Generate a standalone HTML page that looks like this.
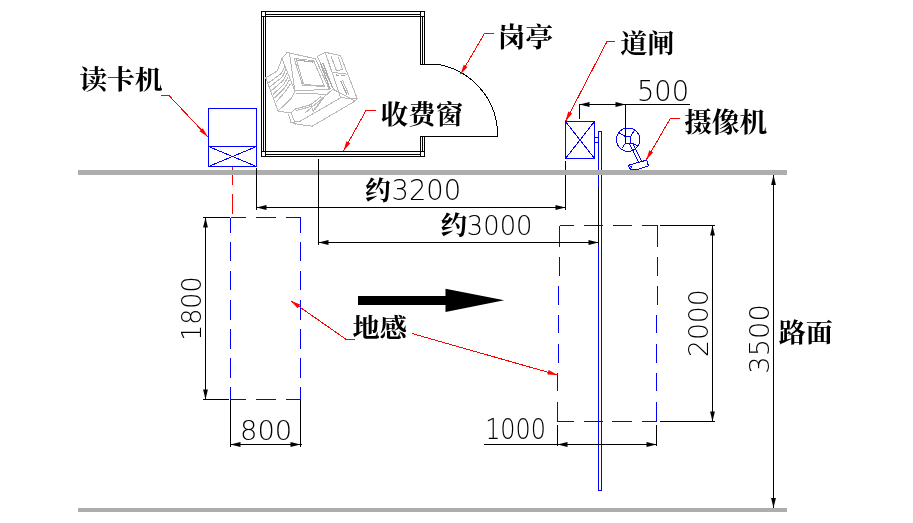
<!DOCTYPE html>
<html lang="zh"><head><meta charset="utf-8"><title>车道布置图</title>
<style>html,body{margin:0;padding:0;background:#fff}svg{display:block;will-change:transform}text{fill:#000}</style></head>
<body><svg width="913" height="523" viewBox="0 0 913 523">
<rect width="913" height="523" fill="#fff"/>
<g stroke="#000" stroke-width="1" fill="none" shape-rendering="crispEdges">
<line x1="261" y1="11.5" x2="425" y2="11.5"/>
<line x1="265" y1="14.5" x2="421" y2="14.5"/>
<line x1="261" y1="16.5" x2="425" y2="16.5"/>
<line x1="261" y1="151.5" x2="425" y2="151.5"/>
<line x1="265" y1="154.5" x2="421" y2="154.5"/>
<line x1="261" y1="156.5" x2="425" y2="156.5"/>
<line x1="261.5" y1="11" x2="261.5" y2="157"/>
<line x1="263.5" y1="16" x2="263.5" y2="152"/>
<line x1="265.5" y1="11" x2="265.5" y2="157"/>
<line x1="420.5" y1="11" x2="420.5" y2="64"/>
<line x1="422.5" y1="16" x2="422.5" y2="64"/>
<line x1="424.5" y1="11" x2="424.5" y2="64"/>
<line x1="420.5" y1="136" x2="420.5" y2="157"/>
<line x1="422.5" y1="136" x2="422.5" y2="152"/>
<line x1="424.5" y1="136" x2="424.5" y2="157"/>
</g>
<path d="M420,64.5 L438.5,64.5 A72,72 0 0 1 497.5,130 L497.5,136.5 L420,136.5" fill="none" stroke="#000" stroke-width="1" shape-rendering="crispEdges"/>
<g fill="none" stroke="#b8b8b8" stroke-width="1" shape-rendering="crispEdges">
<polygon points="289.5,53.0 315.5,58.8 329.3,89.3 294.9,90.9" />
<polygon points="294.1,58.5 313.7,60.7 324.7,86.6 302.5,85.1" />
<polyline points="296.4,60.0 313.2,62.1" stroke="#a8a8a8" stroke-width="1.2"/>
<polyline points="296.4,60.0 303.6,84.4" />
<polyline points="303.6,84.4 323.9,86.0" />
<polyline points="289.5,53.0 287.2,52.3 281.9,58.5 294.9,90.9" />
<polyline points="281.9,58.5 277.3,71.0 265.8,77.9 278.1,111.1 291.1,113.0" />
<polyline points="294.9,90.9 291.1,98.5 278.1,111.1" />
<polyline points="295.9,93.6 328.1,94.2" />
<polyline points="284.9,65.6 281.6,73.3 268.4,82.9" />
<polyline points="286.0,69.3 282.3,77.0 270.0,86.7" />
<polyline points="287.1,73.0 283.1,80.6 271.5,90.6" />
<polyline points="288.1,76.7 283.9,84.3 273.0,94.4" />
<polyline points="289.2,80.3 284.6,88.0 274.5,98.2" />
<polyline points="290.3,84.0 285.4,91.6 276.1,102.0" />
<polyline points="291.1,113.0 294.9,109.2 310.9,104.6 320.9,96.7" />
<polyline points="296.4,110.4 311.2,106.5" />
<polyline points="310.9,104.6 313.2,111.1 323.2,97.0" />
<polyline points="314.8,110.0 324.7,96.2" />
<polyline points="291.1,113.0 295.9,125.0" />
<polyline points="317.1,56.4 325.2,52.3 340.6,55.6 357.2,98.6 355.2,101.0 312.2,126.2 300.0,124.6 291.1,122.6" />
<polyline points="291.1,122.6 288.3,114.0" />
<polyline points="325.2,52.3 340.6,97.8 357.2,98.6" />
<polyline points="340.6,97.8 300.0,121.3 290.3,122.6" />
<polyline points="317.1,56.4 333.3,88.9" />
<polyline points="320.3,62.9 330.0,88.9" stroke="#a8a8a8" stroke-width="1.3"/>
<polyline points="322.7,62.5 332.5,87.6" stroke="#a8a8a8" stroke-width="1.3"/>
<polyline points="330.9,56.0 336.5,70.7 342.6,69.4 338.2,56.7" />
<polyline points="332.5,72.3 347.1,74.2" />
<polyline points="335.7,75.0 339.0,75.4" stroke="#a8a8a8" stroke-width="1.2"/>
<polyline points="341.4,75.5 344.7,75.9" stroke="#a8a8a8" stroke-width="1.2"/>
<polyline points="340.6,80.7 347.1,95.3" stroke="#a8a8a8" stroke-width="1.2"/>
<polyline points="342.6,80.4 348.7,94.5" />
<polyline points="332.5,88.9 355.2,101.0" />
<polyline points="333.3,88.9 304.9,113.2" />
</g>
<g fill="none" stroke="#0000ff" stroke-width="1" shape-rendering="crispEdges">
<rect x="208.5" y="108.5" width="48" height="58" shape-rendering="crispEdges"/>
<line x1="208.5" y1="146.5" x2="256.5" y2="146.5" shape-rendering="crispEdges"/>
<line x1="208.5" y1="146.5" x2="256.5" y2="166.5"/><line x1="208.5" y1="166.5" x2="256.5" y2="146.5"/>
<rect x="565.5" y="121.5" width="29" height="37" shape-rendering="crispEdges"/>
<line x1="565.5" y1="121.5" x2="594.5" y2="158.5"/><line x1="565.5" y1="158.5" x2="594.5" y2="121.5"/>
<rect x="594.5" y="137.5" width="4" height="5" shape-rendering="crispEdges"/>
<path d="M598.5,490 L598.5,131.5 L601.5,131.5 L601.5,490 Z" shape-rendering="crispEdges"/>
<circle cx="628.1" cy="139.7" r="11.7"/>
<rect x="625.5" y="136.5" width="5" height="6.5"/>
<path d="M625.5,136.6 L618.6,132.6 M630.6,136.6 L634.7,129.7 M625.5,142.9 L622,148.3 M630.6,142.9 L638.3,145.8"/>
<path d="M628.9,143 L638.7,162 M632.4,143 L641.2,160.7"/>
<path d="M628.3,165.3 L646.7,160.1 L648.4,165.9 L637,169.6 L630.5,169.8 Z M628.3,165.3 L631.3,166.5 L630.5,169.8"/>
</g>
<path d="M232.5,167 L232.5,185 M232.5,194 L232.5,214" stroke="#f00" stroke-width="1" fill="none" shape-rendering="crispEdges"/>
<path d="M230.5,217.5 L246,217.5 M256,217.5 L276,217.5 M285.5,217.5 L300.5,217.5 M230.5,399.5 L246,399.5 M256,399.5 L276,399.5 M285.5,399.5 L300.5,399.5 M230.5,217.5 L230.5,232.5 M230.5,242 L230.5,261 M230.5,271 L230.5,290 M230.5,300 L230.5,320 M230.5,329 L230.5,349 M230.5,358 L230.5,378 M230.5,386.5 L230.5,399.5 M300.5,217.5 L300.5,232.5 M300.5,242 L300.5,261 M300.5,271 L300.5,290 M300.5,300 L300.5,320 M300.5,329 L300.5,349 M300.5,358 L300.5,378 M300.5,386.5 L300.5,399.5" stroke="#0000ff" stroke-width="1" fill="none" shape-rendering="crispEdges"/>
<path d="M559.5,225.5 L574,225.5 M584,225.5 L603,225.5 M612.5,225.5 L632,225.5 M642,225.5 L657.5,225.5 M557.5,421.5 L574,421.5 M583.5,421.5 L603,421.5 M612,421.5 L632,421.5 M641.5,421.5 L656.5,421.5 M559.5,225.5 L559.5,246.5 M559.5,257 L559.5,275.5 M558.5,286 L558.5,305 M558.5,314.5 L558.5,333 M558.5,343.5 L558.5,362.5 M557.5,372.5 L557.5,391 M557.5,401.5 L557.5,421.5 M657.5,225.5 L657.5,246.5 M657.5,257 L657.5,275.5 M657.5,286 L657.5,305 M656.5,314.5 L656.5,333 M656.5,343.5 L656.5,362.5 M656.5,372.5 L656.5,391 M656.5,401.5 L656.5,421.5" stroke="#0000ff" stroke-width="1" fill="none" shape-rendering="crispEdges"/>
<polygon points="358,296 445.5,296 445.5,288.8 504.2,300.3 445.5,311.9 445.5,305 358,305" fill="#000"/>
<g stroke="#000" stroke-width="1" fill="none" shape-rendering="crispEdges">
<line x1="579" y1="104.5" x2="690" y2="104.5"/>
<line x1="579.5" y1="104" x2="579.5" y2="119"/>
<line x1="625.5" y1="104" x2="625.5" y2="142"/>
<line x1="256.5" y1="168" x2="256.5" y2="210"/>
<line x1="565.5" y1="161" x2="565.5" y2="210"/>
<line x1="256" y1="207.5" x2="566" y2="207.5"/>
<line x1="318.5" y1="159" x2="318.5" y2="245"/>
<line x1="598.5" y1="187" x2="598.5" y2="245"/>
<line x1="318" y1="242.5" x2="599" y2="242.5"/>
<line x1="203" y1="217.5" x2="230" y2="217.5"/>
<line x1="203" y1="399.5" x2="228.5" y2="399.5"/>
<line x1="205.5" y1="217" x2="205.5" y2="400"/>
<line x1="230.5" y1="400" x2="230.5" y2="447"/>
<line x1="300.5" y1="400" x2="300.5" y2="447"/>
<line x1="229.5" y1="444.5" x2="302" y2="444.5"/>
<line x1="557.5" y1="425" x2="557.5" y2="446"/>
<line x1="656.5" y1="425" x2="656.5" y2="446"/>
<line x1="484" y1="444.5" x2="657" y2="444.5"/>
<line x1="660" y1="225.5" x2="715" y2="225.5"/>
<line x1="660" y1="421.5" x2="715" y2="421.5"/>
<line x1="712.5" y1="225" x2="712.5" y2="422"/>
<line x1="773.5" y1="175" x2="773.5" y2="508"/>
</g>
<polygon points="579.5,104.5 589.5,102.1 589.5,106.9" fill="#000"/>
<polygon points="625.5,104.5 615.5,106.9 615.5,102.1" fill="#000"/>
<polygon points="256.5,207.5 266.5,205.1 266.5,209.9" fill="#000"/>
<polygon points="565.5,207.5 555.5,209.9 555.5,205.1" fill="#000"/>
<polygon points="318.5,242.5 328.5,240.1 328.5,244.9" fill="#000"/>
<polygon points="598.5,242.5 588.5,244.9 588.5,240.1" fill="#000"/>
<polygon points="205.5,217.5 207.9,227.5 203.1,227.5" fill="#000"/>
<polygon points="205.5,399.5 203.1,389.5 207.9,389.5" fill="#000"/>
<polygon points="230.5,444.5 240.5,442.1 240.5,446.9" fill="#000"/>
<polygon points="300.5,444.5 290.5,446.9 290.5,442.1" fill="#000"/>
<polygon points="557.5,444.5 567.5,442.1 567.5,446.9" fill="#000"/>
<polygon points="656.5,444.5 646.5,446.9 646.5,442.1" fill="#000"/>
<polygon points="712.5,225.5 714.9,235.5 710.1,235.5" fill="#000"/>
<polygon points="712.5,421.5 710.1,411.5 714.9,411.5" fill="#000"/>
<polygon points="773.5,175.0 775.9,185.0 771.1,185.0" fill="#000"/>
<polygon points="773.5,508.0 771.1,498.0 775.9,498.0" fill="#000"/>
<polyline points="161,95.5 169,95.5 208,137" fill="none" stroke="#f00" stroke-width="1" shape-rendering="crispEdges"/>
<polygon points="208.0,137.0 199.5,131.2 202.8,128.2" fill="#f00"/>
<polyline points="376,110.5 366,110.5 343.5,151" fill="none" stroke="#f00" stroke-width="1" shape-rendering="crispEdges"/>
<polygon points="343.5,151.0 346.4,141.2 350.3,143.3" fill="#f00"/>
<polyline points="493.5,33.5 484.5,33.5 460.5,74.5" fill="none" stroke="#f00" stroke-width="1" shape-rendering="crispEdges"/>
<polygon points="460.5,74.5 463.7,64.8 467.5,67.0" fill="#f00"/>
<polyline points="615,41.5 607,41.5 565.5,121.5" fill="none" stroke="#f00" stroke-width="1" shape-rendering="crispEdges"/>
<polygon points="565.5,121.5 568.2,111.6 572.1,113.6" fill="#f00"/>
<polyline points="679.7,118.5 670.3,118.5 646.2,160" fill="none" stroke="#f00" stroke-width="1" shape-rendering="crispEdges"/>
<polygon points="646.2,160.0 649.3,150.2 653.1,152.5" fill="#f00"/>
<polyline points="355,339.5 346.3,339.5 290.7,300.7" fill="none" stroke="#f00" stroke-width="1" shape-rendering="crispEdges"/>
<polygon points="290.7,300.7 300.2,304.6 297.6,308.2" fill="#f00"/>
<polyline points="412,333.5 557.6,375" fill="none" stroke="#f00" stroke-width="1" shape-rendering="crispEdges"/>
<polygon points="557.6,375.0 547.4,374.4 548.6,370.1" fill="#f00"/>
<text transform="translate(79.13,89.25) scale(1.032,0.980)" font-size="27" style="font-family:'Liberation Serif','Noto Serif CJK SC',serif;font-weight:700">读卡机</text>
<text transform="translate(380.78,123.64) scale(1.018,0.983)" font-size="27" style="font-family:'Liberation Serif','Noto Serif CJK SC',serif;font-weight:700">收费窗</text>
<text transform="translate(497.39,46.82) scale(1.036,0.992)" font-size="27" style="font-family:'Liberation Serif','Noto Serif CJK SC',serif;font-weight:700">岗亭</text>
<text transform="translate(620.35,52.90) scale(1.004,0.961)" font-size="27" style="font-family:'Liberation Serif','Noto Serif CJK SC',serif;font-weight:700">道闸</text>
<text transform="translate(684.13,131.72) scale(1.027,0.992)" font-size="27" style="font-family:'Liberation Serif','Noto Serif CJK SC',serif;font-weight:700">摄像机</text>
<text transform="translate(352.60,337.16) scale(1.005,0.959)" font-size="27" style="font-family:'Liberation Serif','Noto Serif CJK SC',serif;font-weight:700">地感</text>
<text transform="translate(778.70,342.38) scale(1.005,0.969)" font-size="27" style="font-family:'Liberation Serif','Noto Serif CJK SC',serif;font-weight:700">路面</text>
<text transform="translate(365.02,200.43) scale(0.984,1.008)" font-size="26" style="font-family:'Liberation Serif','Noto Serif CJK SC',serif;font-weight:700">约</text>
<text transform="translate(440.58,234.49) scale(1.020,0.984)" font-size="26" style="font-family:'Liberation Serif','Noto Serif CJK SC',serif;font-weight:700">约</text>
<text transform="translate(636.92,100.60) scale(0.975,1.002)" font-size="28" style="font-family:'DejaVu Sans Light','DejaVu Sans',sans-serif;font-weight:200">500</text>
<text transform="translate(391.54,200.40) scale(0.978,0.995)" font-size="28" style="font-family:'DejaVu Sans Light','DejaVu Sans',sans-serif;font-weight:200">3200</text>
<text transform="translate(466.86,234.71) scale(0.921,0.979)" font-size="28" style="font-family:'DejaVu Sans Light','DejaVu Sans',sans-serif;font-weight:200">3000</text>
<text transform="translate(240.01,440.21) scale(0.977,0.979)" font-size="28" style="font-family:'DejaVu Sans Light','DejaVu Sans',sans-serif;font-weight:200">800</text>
<text transform="translate(485.14,439.41) scale(0.852,0.984)" font-size="28" style="font-family:'DejaVu Sans Light','DejaVu Sans',sans-serif;font-weight:200">1000</text>
<text transform="translate(200.72,340.81) rotate(-90) scale(0.902,0.969)" font-size="28" style="font-family:'DejaVu Sans Light','DejaVu Sans',sans-serif;font-weight:200">1800</text>
<text transform="translate(707.53,357.00) rotate(-90) scale(0.950,0.940)" font-size="28" style="font-family:'DejaVu Sans Light','DejaVu Sans',sans-serif;font-weight:200">2000</text>
<text transform="translate(768.82,373.65) rotate(-90) scale(0.974,0.960)" font-size="28" style="font-family:'DejaVu Sans Light','DejaVu Sans',sans-serif;font-weight:200">3500</text>
<rect x="78" y="170" width="709" height="5" fill="#adadad"/>
<rect x="78" y="508" width="709" height="4" fill="#adadad"/>
<path d="M256.5,168 L256.5,177 M318.5,168 L318.5,177" stroke="#000" stroke-width="1" fill="none" shape-rendering="crispEdges"/>
</svg></body></html>
